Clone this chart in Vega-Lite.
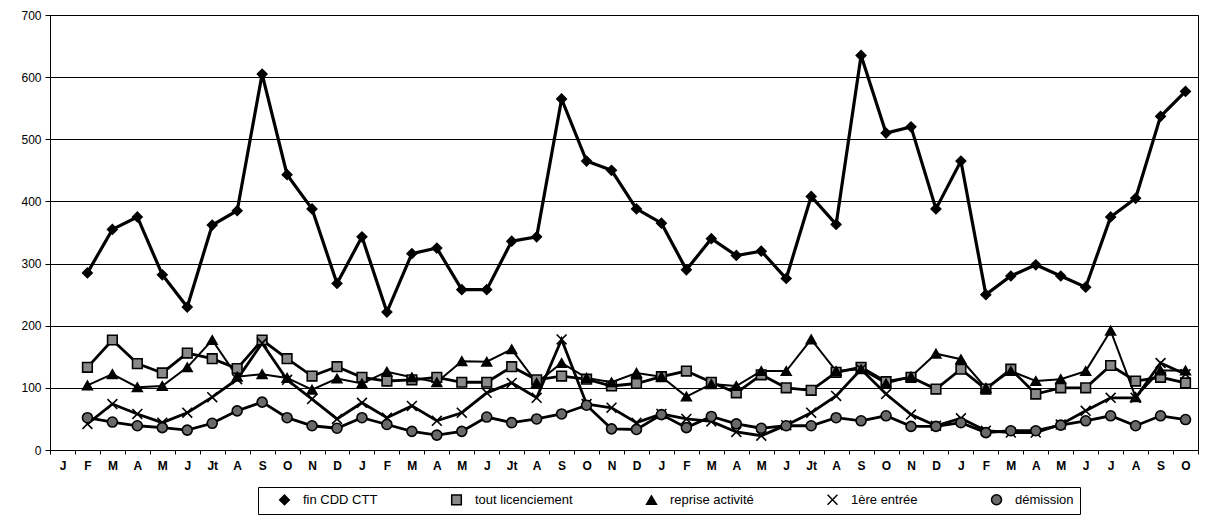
{
  "$schema": "https://vega.github.io/schema/vega-lite/v6.json",
  "width": 1148,
  "height": 435,
  "autosize": {"type": "none"},
  "padding": {"left": 50, "top": 15, "right": 7, "bottom": 78},
  "background": "white",
  "config": {"font": "Liberation Sans", "view": {"stroke": "black", "strokeWidth": 1}},
  "data": {"values": [
    {"mois": "1-02-F", "fin CDD CTT": 285, "tout licenciement": 133, "reprise activité": 104, "1ère entrée": 42, "démission": 52},
    {"mois": "1-03-M", "fin CDD CTT": 355, "tout licenciement": 177, "reprise activité": 122, "1ère entrée": 74, "démission": 45},
    {"mois": "1-04-A", "fin CDD CTT": 375, "tout licenciement": 139, "reprise activité": 101, "1ère entrée": 58, "démission": 39},
    {"mois": "1-05-M", "fin CDD CTT": 282, "tout licenciement": 124, "reprise activité": 103, "1ère entrée": 44, "démission": 36},
    {"mois": "1-06-J", "fin CDD CTT": 230, "tout licenciement": 156, "reprise activité": 133, "1ère entrée": 60, "démission": 32},
    {"mois": "1-07-Jt", "fin CDD CTT": 362, "tout licenciement": 147, "reprise activité": 177, "1ère entrée": 85, "démission": 43},
    {"mois": "1-08-A", "fin CDD CTT": 385, "tout licenciement": 131, "reprise activité": 118, "1ère entrée": 114, "démission": 63},
    {"mois": "1-09-S", "fin CDD CTT": 605, "tout licenciement": 177, "reprise activité": 122, "1ère entrée": 172, "démission": 77},
    {"mois": "1-10-O", "fin CDD CTT": 443, "tout licenciement": 147, "reprise activité": 116, "1ère entrée": 113, "démission": 52},
    {"mois": "1-11-N", "fin CDD CTT": 388, "tout licenciement": 119, "reprise activité": 97, "1ère entrée": 82, "démission": 39},
    {"mois": "1-12-D", "fin CDD CTT": 268, "tout licenciement": 134, "reprise activité": 115, "1ère entrée": 50, "démission": 35},
    {"mois": "2-01-J", "fin CDD CTT": 343, "tout licenciement": 117, "reprise activité": 107, "1ère entrée": 76, "démission": 52},
    {"mois": "2-02-F", "fin CDD CTT": 222, "tout licenciement": 111, "reprise activité": 126, "1ère entrée": 52, "démission": 41},
    {"mois": "2-03-M", "fin CDD CTT": 316, "tout licenciement": 113, "reprise activité": 117, "1ère entrée": 71, "démission": 30},
    {"mois": "2-04-A", "fin CDD CTT": 325, "tout licenciement": 117, "reprise activité": 109, "1ère entrée": 47, "démission": 24},
    {"mois": "2-05-M", "fin CDD CTT": 258, "tout licenciement": 109, "reprise activité": 143, "1ère entrée": 60, "démission": 30},
    {"mois": "2-06-J", "fin CDD CTT": 258, "tout licenciement": 109, "reprise activité": 142, "1ère entrée": 92, "démission": 53},
    {"mois": "2-07-Jt", "fin CDD CTT": 336, "tout licenciement": 134, "reprise activité": 162, "1ère entrée": 108, "démission": 44},
    {"mois": "2-08-A", "fin CDD CTT": 343, "tout licenciement": 113, "reprise activité": 108, "1ère entrée": 84, "démission": 50},
    {"mois": "2-09-S", "fin CDD CTT": 565, "tout licenciement": 119, "reprise activité": 140, "1ère entrée": 178, "démission": 58},
    {"mois": "2-10-O", "fin CDD CTT": 465, "tout licenciement": 114, "reprise activité": 116, "1ère entrée": 74, "démission": 72},
    {"mois": "2-11-N", "fin CDD CTT": 450, "tout licenciement": 103, "reprise activité": 109, "1ère entrée": 68, "démission": 34},
    {"mois": "2-12-D", "fin CDD CTT": 388, "tout licenciement": 107, "reprise activité": 124, "1ère entrée": 44, "démission": 33},
    {"mois": "3-01-J", "fin CDD CTT": 365, "tout licenciement": 118, "reprise activité": 118, "1ère entrée": 58, "démission": 57},
    {"mois": "3-02-F", "fin CDD CTT": 290, "tout licenciement": 127, "reprise activité": 86, "1ère entrée": 50, "démission": 36},
    {"mois": "3-03-M", "fin CDD CTT": 340, "tout licenciement": 109, "reprise activité": 106, "1ère entrée": 46, "démission": 54},
    {"mois": "3-04-A", "fin CDD CTT": 313, "tout licenciement": 92, "reprise activité": 103, "1ère entrée": 29, "démission": 42},
    {"mois": "3-05-M", "fin CDD CTT": 320, "tout licenciement": 121, "reprise activité": 127, "1ère entrée": 23, "démission": 35},
    {"mois": "3-06-J", "fin CDD CTT": 276, "tout licenciement": 100, "reprise activité": 127, "1ère entrée": 40, "démission": 39},
    {"mois": "3-07-Jt", "fin CDD CTT": 408, "tout licenciement": 96, "reprise activité": 178, "1ère entrée": 60, "démission": 39},
    {"mois": "3-08-A", "fin CDD CTT": 363, "tout licenciement": 125, "reprise activité": 127, "1ère entrée": 87, "démission": 52},
    {"mois": "3-09-S", "fin CDD CTT": 635, "tout licenciement": 133, "reprise activité": 130, "1ère entrée": 130, "démission": 47},
    {"mois": "3-10-O", "fin CDD CTT": 510, "tout licenciement": 110, "reprise activité": 107, "1ère entrée": 90, "démission": 55},
    {"mois": "3-11-N", "fin CDD CTT": 520, "tout licenciement": 117, "reprise activité": 118, "1ère entrée": 57, "démission": 38},
    {"mois": "3-12-D", "fin CDD CTT": 388, "tout licenciement": 98, "reprise activité": 155, "1ère entrée": 39, "démission": 38},
    {"mois": "4-01-J", "fin CDD CTT": 465, "tout licenciement": 130, "reprise activité": 146, "1ère entrée": 51, "démission": 44},
    {"mois": "4-02-F", "fin CDD CTT": 250, "tout licenciement": 98, "reprise activité": 100, "1ère entrée": 31, "démission": 28},
    {"mois": "4-03-M", "fin CDD CTT": 280, "tout licenciement": 130, "reprise activité": 127, "1ère entrée": 28, "démission": 31},
    {"mois": "4-04-A", "fin CDD CTT": 298, "tout licenciement": 90, "reprise activité": 111, "1ère entrée": 28, "démission": 31},
    {"mois": "4-05-M", "fin CDD CTT": 280, "tout licenciement": 100, "reprise activité": 114, "1ère entrée": 41, "démission": 40},
    {"mois": "4-06-J", "fin CDD CTT": 262, "tout licenciement": 100, "reprise activité": 127, "1ère entrée": 63, "démission": 47},
    {"mois": "4-07-J", "fin CDD CTT": 375, "tout licenciement": 136, "reprise activité": 192, "1ère entrée": 84, "démission": 55},
    {"mois": "4-08-A", "fin CDD CTT": 405, "tout licenciement": 111, "reprise activité": 85, "1ère entrée": 84, "démission": 39},
    {"mois": "4-09-S", "fin CDD CTT": 537, "tout licenciement": 117, "reprise activité": 128, "1ère entrée": 140, "démission": 55},
    {"mois": "4-10-O", "fin CDD CTT": 577, "tout licenciement": 108, "reprise activité": 128, "1ère entrée": 122, "démission": 49}
  ]},
  "transform": [
    {"fold": ["fin CDD CTT", "tout licenciement", "reprise activité", "1ère entrée", "démission"], "as": ["serie", "valeur"]}
  ],
  "encoding": {
    "x": {
      "field": "mois", "type": "ordinal", "bandPosition": 0.5,
      "scale": {"type": "band", "paddingInner": 0, "paddingOuter": 0, "domain": [
        "1-01-J","1-02-F","1-03-M","1-04-A","1-05-M","1-06-J","1-07-Jt","1-08-A","1-09-S","1-10-O","1-11-N","1-12-D",
        "2-01-J","2-02-F","2-03-M","2-04-A","2-05-M","2-06-J","2-07-Jt","2-08-A","2-09-S","2-10-O","2-11-N","2-12-D",
        "3-01-J","3-02-F","3-03-M","3-04-A","3-05-M","3-06-J","3-07-Jt","3-08-A","3-09-S","3-10-O","3-11-N","3-12-D",
        "4-01-J","4-02-F","4-03-M","4-04-A","4-05-M","4-06-J","4-07-J","4-08-A","4-09-S","4-10-O"]},
      "axis": {"title": null, "labelExpr": "split(datum.value, '-')[2]", "labelAngle": 0, "tickBand": "extent", "grid": false,
               "domainColor": "black", "tickColor": "black", "tickSize": 4, "labelPadding": 6, "labelFontSize": 12, "labelColor": "black", "labelFontWeight": "bold"}
    },
    "y": {
      "field": "valeur", "type": "quantitative",
      "scale": {"domain": [0, 700], "nice": false},
      "axis": {"title": null, "values": [0, 100, 200, 300, 400, 500, 600, 700], "grid": true, "gridColor": "black", "gridOpacity": 1, "gridWidth": 1,
               "domainColor": "black", "tickColor": "black", "tickSize": 5, "labelPadding": 4, "labelFontSize": 12, "labelColor": "black"}
    }
  },
  "layer": [
    {
      "transform": [{"filter": "datum.serie === 'reprise activité'"}],
      "mark": {"type": "line", "color": "black", "strokeWidth": 2},
      "encoding": {"detail": {"field": "serie"}}
    },
    {
      "transform": [{"filter": "datum.serie !== 'reprise activité' && datum.serie !== 'fin CDD CTT'"}],
      "mark": {"type": "line", "color": "black", "strokeWidth": 2.8},
      "encoding": {"detail": {"field": "serie"}}
    },
    {
      "transform": [{"filter": "datum.serie === 'fin CDD CTT'"}],
      "mark": {"type": "line", "color": "black", "strokeWidth": 3.2},
      "encoding": {"detail": {"field": "serie"}}
    },
    {
      "mark": {"type": "point", "filled": true, "stroke": "black", "strokeWidth": 1.6, "opacity": 1},
      "encoding": {
        "shape": {"field": "serie", "type": "nominal",
          "scale": {"domain": ["fin CDD CTT", "tout licenciement", "reprise activité", "1ère entrée", "démission"],
                    "range": ["diamond", "square", "triangle-up", "M-1,-1L1,1M-1,1L1,-1", "circle"]},
          "legend": {"title": null, "orient": "none", "legendX": 208, "legendY": 472, "direction": "horizontal",
                     "strokeColor": "black", "padding": 6, "labelFontSize": 13, "labelColor": "black", "labelLimit": 0,
                     "columnPadding": 58, "symbolOffset": 14, "labelOffset": 12, "symbolStrokeColor": "black", "symbolStrokeWidth": 1.5}},
        "fill": {"field": "serie", "type": "nominal",
          "scale": {"domain": ["fin CDD CTT", "tout licenciement", "reprise activité", "1ère entrée", "démission"],
                    "range": ["black", "#8a8a8a", "black", "black", "#6a6a6a"]}},
        "size": {"field": "serie", "type": "nominal",
          "scale": {"domain": ["fin CDD CTT", "tout licenciement", "reprise activité", "1ère entrée", "démission"],
                    "range": [90, 100, 14, 110, 90]}}
      }
    }
  ]
}
